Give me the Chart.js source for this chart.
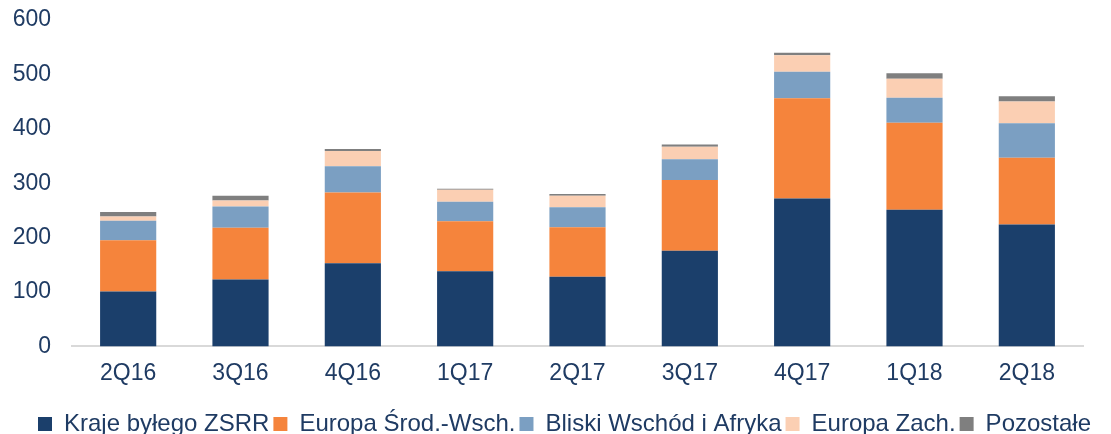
<!DOCTYPE html>
<html>
<head>
<meta charset="utf-8">
<script src="https://cdn.jsdelivr.net/npm/chart.js@4/dist/chart.umd.min.js"></script>
<style>
  html, body { margin: 0; padding: 0; background: #fff; }
  #wrap { width: 1111px; height: 434px; position: relative; }
</style>
</head>
<body>
<div id="wrap"><canvas id="c" width="1111" height="434"></canvas></div>
<script>
const categories = ['2Q16', '3Q16', '4Q16', '1Q17', '2Q17', '3Q17', '4Q17', '1Q18', '2Q18'];
const seriesNames = ['Kraje byłego ZSRR', 'Europa Środ.-Wsch.', 'Bliski Wschód i Afryka', 'Europa Zach.', 'Pozostałe'];
const zsrr      = [101, 123, 153, 138, 128, 176, 272, 251, 224];
const europaSW  = [94, 95, 130, 92, 91, 130, 184, 160, 123];
const bliski    = [36, 39, 48, 36, 37, 38, 49, 46, 63];
const europaZ   = [8, 11, 28, 22, 21, 23, 30, 35, 40];
const pozostale = [8, 9, 4, 2, 3, 4, 5, 10, 10];
const yTicks = [0, 100, 200, 300, 400, 500, 600];

const colors = ['#1B3F6B', '#F5843C', '#7B9FC2', '#FBCFB3', '#7F7F7F'];
const textColor = '#1F3B63';
const values = [zsrr, europaSW, bliski, europaZ, pozostale];

Chart.defaults.font.family = '"Liberation Sans", Arial, sans-serif';
Chart.defaults.font.size = 23;
Chart.defaults.color = textColor;

const legendShift = {
  id: 'legendShift',
  afterLayout(chart) {
    const l = chart.legend;
    if (!l) return;
    const dx = 23, dy = 12;
    l.left += dx; l.right += dx;
    l.top += dy; l.bottom += dy;
  }
};

new Chart(document.getElementById('c'), {
  type: 'bar',
  data: {
    labels: categories,
    datasets: seriesNames.map((n, i) => ({
      label: n,
      data: values[i],
      backgroundColor: colors[i],
      borderWidth: 0,
      barPercentage: 0.5,
      categoryPercentage: 1.0
    }))
  },
  plugins: [legendShift],
  options: {
    responsive: false,
    animation: false,
    layout: { padding: { top: 0, right: 28, left: 0, bottom: 0 } },
    plugins: {
      tooltip: { enabled: false },
      legend: {
        position: 'bottom',
        labels: {
          boxWidth: 14,
          boxHeight: 14,
          padding: 4,
          color: textColor,
          font: { size: 24 }
        }
      }
    },
    scales: {
      x: {
        stacked: true,
        grid: { display: false, drawTicks: false },
        border: { display: true, color: '#D9D9D9', width: 2 },
        afterFit: (axis) => { axis.height -= 4; },
        ticks: { padding: 13, color: textColor, font: { size: 23 } }
      },
      y: {
        stacked: true,
        min: 0,
        max: 600,
        afterBuildTicks: (axis) => { axis.ticks = yTicks.map(v => ({ value: v })); },
        afterFit: (axis) => { axis.width = 72; axis.paddingTop = 20; },
        grid: { display: false, drawTicks: false },
        border: { display: false },
        ticks: { padding: 21, color: textColor, font: { size: 23 } }
      }
    }
  }
});
</script>
</body>
</html>
